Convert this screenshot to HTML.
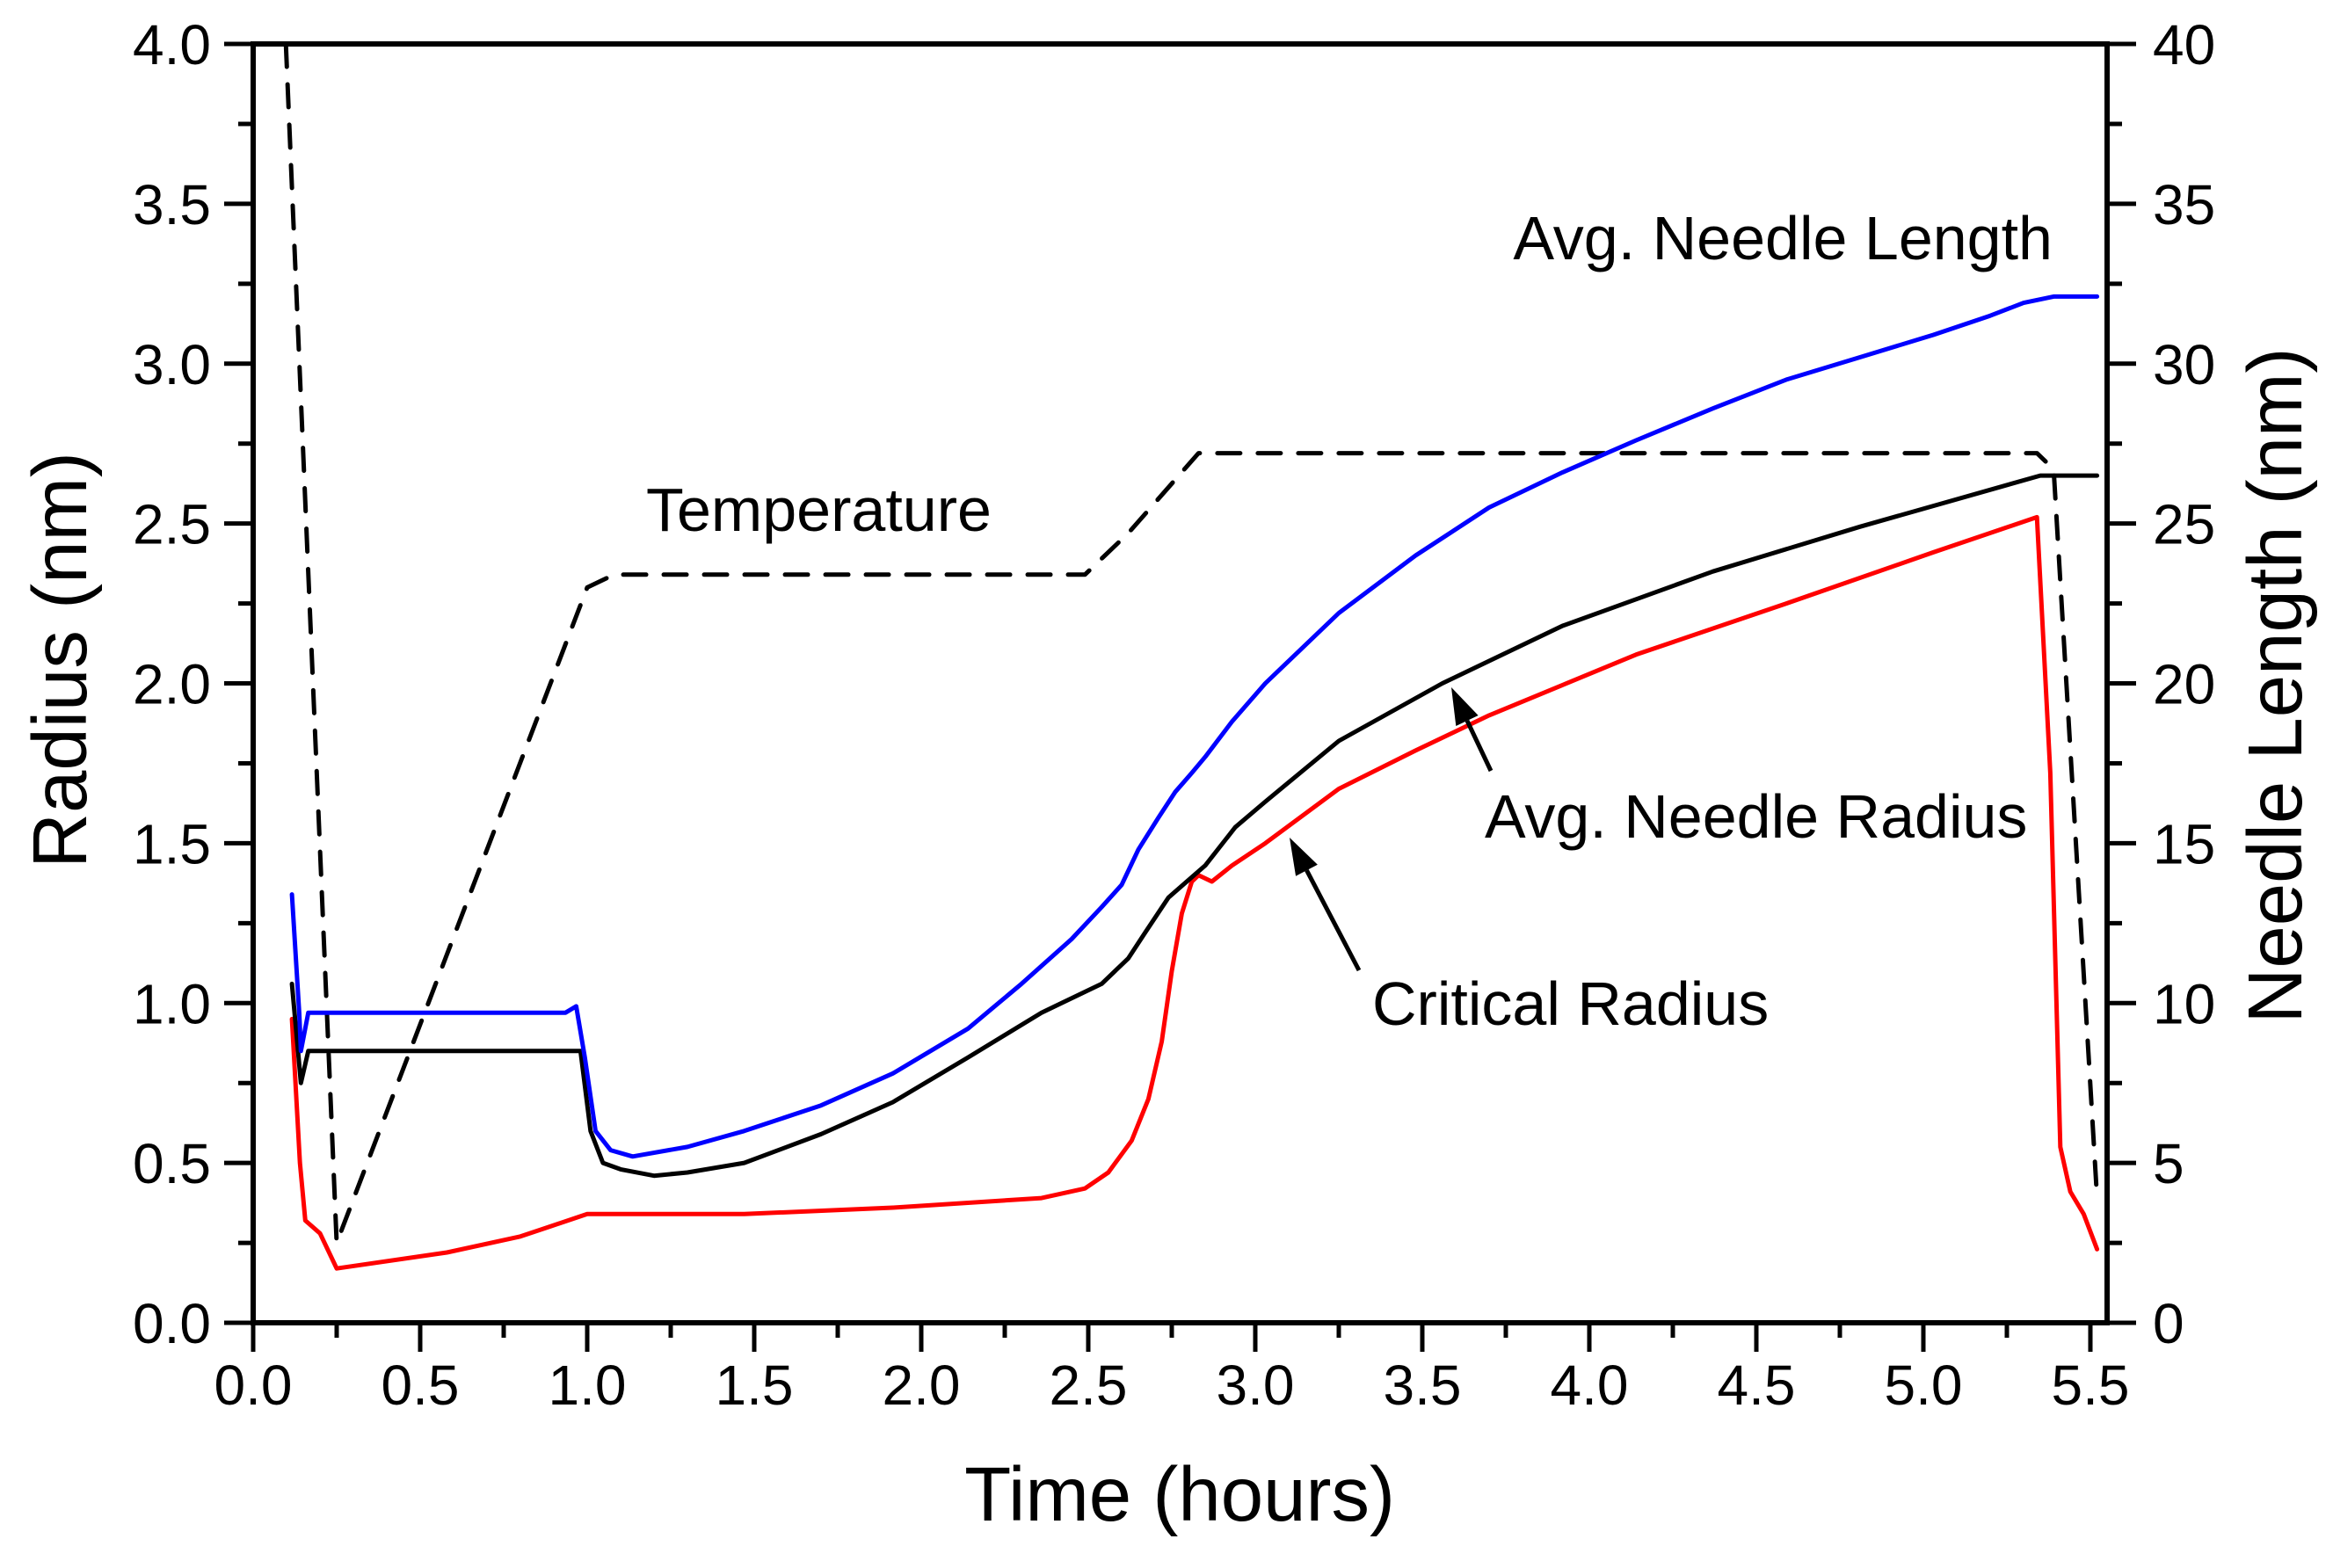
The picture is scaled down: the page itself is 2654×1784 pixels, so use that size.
<!DOCTYPE html>
<html><head><meta charset="utf-8"><style>
html,body{margin:0;padding:0;background:#fff;}
svg{display:block;font-family:"Liberation Sans",Arial,sans-serif;}
</style></head><body>
<svg id="chart" width="2654" height="1784" viewBox="0 0 2654 1784">
<g id="plot"></g>
<g id="axes"></g>
<text x="1342" y="1730" font-size="87" text-anchor="middle">Time (hours)</text>
<text transform="translate(98,751) rotate(-90)" font-size="87" text-anchor="middle">Radius (nm)</text>
<text transform="translate(2618,780) rotate(-90)" font-size="87" text-anchor="middle">Needle Length (nm)</text>
<text x="2335" y="295" font-size="70" text-anchor="end">Avg. Needle Length</text>
<text x="735" y="604" font-size="70">Temperature</text>
<text x="1689" y="953" font-size="70">Avg. Needle Radius</text>
<text x="1561" y="1166" font-size="70">Critical Radius</text>
</svg>
<script>
const blueT=[0.116,0.138,0.143,0.165,0.935,0.967,0.993,1.025,1.07,1.136,1.30,1.47,1.70,1.915,2.14,2.30,2.45,2.54,2.60,2.65,2.71,2.76,2.81,2.85,2.93,3.03,3.25,3.48,3.70,3.92,4.14,4.37,4.59,4.81,5.03,5.20,5.30,5.39,5.52];
const blueV=[13.4,9.7,8.5,9.7,9.7,9.9,8.3,6.0,5.4,5.2,5.5,6.0,6.8,7.8,9.2,10.6,12.0,13.0,13.7,14.8,15.8,16.6,17.2,17.7,18.8,20.0,22.2,24.0,25.5,26.6,27.6,28.6,29.5,30.2,30.9,31.5,31.9,32.1,32.1];
const blackT=[0.116,0.143,0.165,0.958,0.98,1.01,1.047,1.10,1.20,1.30,1.47,1.70,1.915,2.14,2.36,2.54,2.62,2.67,2.74,2.85,2.94,3.03,3.25,3.56,3.92,4.37,4.81,5.35,5.52];
const blackV=[1.06,0.75,0.85,0.85,0.85,0.6,0.5,0.48,0.46,0.47,0.5,0.59,0.69,0.83,0.97,1.06,1.14,1.22,1.33,1.43,1.55,1.63,1.82,2.0,2.18,2.35,2.49,2.65,2.65];
const redT=[0.116,0.14,0.156,0.20,0.25,0.58,0.80,1.0,1.47,1.915,2.36,2.49,2.56,2.63,2.68,2.72,2.75,2.78,2.81,2.83,2.87,2.93,3.03,3.25,3.48,3.70,4.14,4.59,5.03,5.34,5.38,5.41,5.44,5.48,5.52];
const redV=[0.95,0.5,0.32,0.28,0.17,0.22,0.27,0.34,0.34,0.36,0.39,0.42,0.47,0.57,0.7,0.88,1.1,1.28,1.38,1.40,1.38,1.43,1.5,1.67,1.79,1.9,2.09,2.25,2.41,2.52,1.72,0.55,0.41,0.34,0.23];
const tempT=[0.098,0.25,1.0,1.08,2.49,2.62,2.83,5.34,5.39,5.52];
const tempV=[4.0,0.25,2.30,2.34,2.34,2.47,2.72,2.72,2.67,0.39];
const xTicks=[0,0.5,1,1.5,2,2.5,3,3.5,4,4.5,5,5.5];
const xLabels=["0.0","0.5","1.0","1.5","2.0","2.5","3.0","3.5","4.0","4.5","5.0","5.5"];
const yTicks=[0,0.5,1,1.5,2,2.5,3,3.5,4];
const yLabels=["0.0","0.5","1.0","1.5","2.0","2.5","3.0","3.5","4.0"];
const y2Ticks=[0,5,10,15,20,25,30,35,40];
const y2Labels=["0","5","10","15","20","25","30","35","40"];

const L=288,R=2397,T=50,B=1505;
const X=t=>L+t*380;
const Y=v=>B-v*(B-T)/4;
const Y2=v=>B-v*(B-T)/40;
const NS="http://www.w3.org/2000/svg";
const plot=document.getElementById('plot'),axes=document.getElementById('axes');
function mk(tag,attrs,parent){const e=document.createElementNS(NS,tag);for(const k in attrs)e.setAttribute(k,attrs[k]);parent.appendChild(e);return e;}
function line(ts,vs,yf,color,dash,name){
  const pts=ts.map((t,i)=>X(t).toFixed(1)+","+yf(vs[i]).toFixed(1)).join(" ");
  const p=mk('polyline',{points:pts,fill:'none',stroke:color,'stroke-width':5,'stroke-linejoin':'round','stroke-linecap':'round'},plot);
  if(dash)p.setAttribute('stroke-dasharray','26 20');
  
  
}
line(tempT,tempV,Y,'#000',true,'temperature-line');
line(redT,redV,Y,'#ff0000',false,'critical-radius-line');
line(blackT,blackV,Y,'#000',false,'avg-needle-radius-line');
line(blueT,blueV,Y2,'#0000ff',false,'avg-needle-length-line');

function arrow(x1,y1,x2,y2,name){
  const g=mk('g',{},plot);
  
  
  const dx=x2-x1,dy=y2-y1,len=Math.hypot(dx,dy),ux=dx/len,uy=dy/len;
  const hl=42,hw=14;
  const bx=x2-ux*hl,by=y2-uy*hl;
  mk('line',{x1:x1,y1:y1,x2:bx,y2:by,stroke:'#000','stroke-width':5},g);
  mk('polygon',{points:`${x2},${y2} ${bx-uy*hw},${by+ux*hw} ${bx+uy*hw},${by-ux*hw}`,fill:'#000'},g);
}
arrow(1696,877,1651,782,'needle-radius-arrow');
arrow(1546,1104,1467,953,'critical-radius-arrow');

const fr=mk('rect',{x:L,y:T,width:R-L,height:B-T,fill:'none',stroke:'#000','stroke-width':6},axes);


xTicks.forEach((t,i)=>{
  mk('line',{x1:X(t),y1:B,x2:X(t),y2:B+33,stroke:'#000','stroke-width':5},axes);
  if(i<xTicks.length-1)mk('line',{x1:X(t+0.25),y1:B,x2:X(t+0.25),y2:B+17,stroke:'#000','stroke-width':5},axes);
  const tx=mk('text',{x:X(t),y:B+93,'font-size':64,'text-anchor':'middle'},axes);
  tx.textContent=xLabels[i];
  
  
});
yTicks.forEach((v,i)=>{
  mk('line',{x1:L-33,y1:Y(v),x2:L,y2:Y(v),stroke:'#000','stroke-width':5},axes);
  if(i<yTicks.length-1)mk('line',{x1:L-17,y1:Y(v+0.25),x2:L,y2:Y(v+0.25),stroke:'#000','stroke-width':5},axes);
  const tx=mk('text',{x:L-48,y:Y(v)+23,'font-size':64,'text-anchor':'end'},axes);
  tx.textContent=yLabels[i];
  
  
});
y2Ticks.forEach((v,i)=>{
  mk('line',{x1:R,y1:Y2(v),x2:R+33,y2:Y2(v),stroke:'#000','stroke-width':5},axes);
  if(i<y2Ticks.length-1)mk('line',{x1:R,y1:Y2(v+2.5),x2:R+17,y2:Y2(v+2.5),stroke:'#000','stroke-width':5},axes);
  const tx=mk('text',{x:R+52,y:Y2(v)+23,'font-size':64,'text-anchor':'start'},axes);
  tx.textContent=y2Labels[i];
  
  
});
</script>
</body></html>
